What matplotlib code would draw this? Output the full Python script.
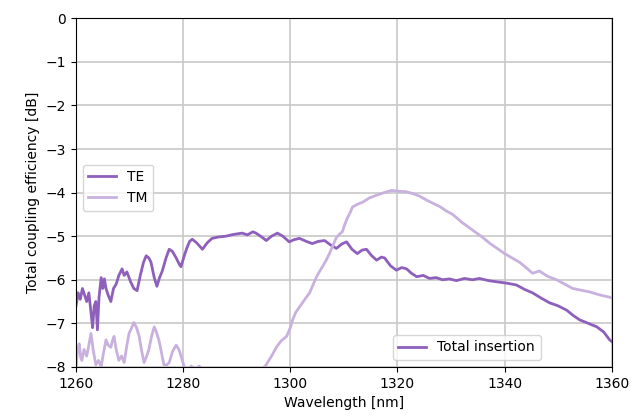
import matplotlib
matplotlib.use("Agg")
import matplotlib.pyplot as plt
from matplotlib.lines import Line2D

# TE measurement (wavelength in nm, coupling efficiency in dB)
te_wl = [1260.0, 1260.4, 1260.8, 1261.2, 1261.6, 1262.0, 1262.4, 1262.8, 1263.1, 1263.4,
         1263.7, 1264.0, 1264.3, 1264.7, 1265.0, 1265.3, 1265.6, 1266.0, 1266.5, 1267.0,
         1267.5, 1268.0, 1268.6, 1269.0, 1269.5, 1270.2, 1270.8, 1271.4, 1272.0, 1272.6,
         1273.1, 1273.6, 1274.0, 1274.6, 1275.1, 1275.6, 1276.1, 1276.8, 1277.4, 1278.0,
         1278.7, 1279.3, 1279.6, 1280.2, 1280.7, 1281.2, 1281.7, 1282.5, 1283.6, 1284.5,
         1285.4, 1286.5, 1288.0, 1289.0, 1289.9, 1291.0, 1292.0, 1293.0, 1293.6, 1294.2,
         1295.0, 1295.5, 1296.5, 1297.6, 1298.6, 1299.8, 1300.7, 1301.7, 1303.0, 1304.1,
         1305.2, 1306.4, 1307.5, 1308.6, 1309.6, 1310.5, 1311.5, 1312.5, 1313.4, 1314.2,
         1315.2, 1316.1, 1317.0, 1317.6, 1318.7, 1319.8, 1320.8, 1321.7, 1322.6, 1323.6,
         1324.8, 1326.0, 1327.2, 1328.4, 1329.7, 1331.0, 1332.5, 1334.0, 1335.3, 1337.0,
         1338.7, 1340.5, 1342.2, 1343.7, 1345.2, 1346.8, 1348.4, 1350.0, 1351.6, 1352.8,
         1354.0, 1355.6, 1357.2, 1358.5, 1359.6, 1360.0]
te_db = [-6.6, -6.3, -6.45, -6.2, -6.35, -6.5, -6.3, -6.75, -7.1, -6.6,
         -6.5, -7.15, -6.4, -5.95, -6.2, -5.98, -6.2, -6.35, -6.5, -6.2,
         -6.1, -5.9, -5.75, -5.9, -5.82, -6.05, -6.2, -6.25, -5.9, -5.6,
         -5.45, -5.5, -5.6, -5.95, -6.15, -5.95, -5.8, -5.5, -5.3, -5.35,
         -5.5, -5.65, -5.7, -5.45, -5.27, -5.12, -5.07, -5.15, -5.3, -5.15,
         -5.05, -5.02, -5.0, -4.97, -4.95, -4.93, -4.97, -4.9, -4.93, -4.98,
         -5.05, -5.1, -5.0, -4.93, -5.0, -5.13, -5.08, -5.05, -5.12, -5.17,
         -5.12, -5.1, -5.2, -5.28, -5.18, -5.13, -5.3, -5.4, -5.32, -5.3,
         -5.45, -5.55, -5.48, -5.5, -5.68, -5.78, -5.72, -5.75, -5.85, -5.93,
         -5.9, -5.97, -5.95, -6.0, -5.98, -6.02, -5.97, -6.0, -5.97, -6.02,
         -6.05, -6.08, -6.12, -6.22, -6.3, -6.42, -6.53, -6.6, -6.7, -6.82,
         -6.92, -7.0, -7.08, -7.2, -7.38, -7.42]

# TM measurement
tm_wl = [1260.0, 1260.3, 1260.6, 1260.9, 1261.1, 1261.5, 1262.0, 1262.4, 1262.8, 1263.2,
         1263.7, 1264.2, 1264.7, 1265.1, 1265.6, 1266.0, 1266.5, 1266.8, 1267.1, 1267.5,
         1268.0, 1268.5, 1269.0, 1269.5, 1269.9, 1270.4, 1270.8, 1271.3, 1271.8, 1272.2,
         1272.7, 1273.2, 1273.6, 1274.1, 1274.6, 1275.0, 1275.5, 1276.0, 1276.4, 1277.0,
         1277.4, 1278.0, 1278.7, 1279.2, 1279.6, 1280.2, 1280.8, 1281.5, 1282.3, 1283.0,
         1283.6, 1284.5, 1286.0, 1288.0, 1290.0, 1292.0, 1294.0, 1295.5, 1296.5, 1297.4,
         1298.3, 1299.3, 1300.0, 1300.4, 1301.0, 1301.7, 1302.7, 1303.6, 1304.3, 1304.9,
         1305.5, 1306.0, 1306.7, 1307.3, 1308.0, 1308.6, 1309.2, 1309.7, 1310.2, 1310.7,
         1311.2, 1311.6, 1312.5, 1313.5, 1314.8, 1316.1, 1317.5, 1318.9, 1320.4, 1321.6,
         1322.8, 1324.1, 1325.4, 1326.7, 1327.9, 1329.1, 1330.3, 1332.0, 1334.0, 1335.6,
         1337.2, 1338.6, 1340.0, 1341.4, 1342.8, 1344.0, 1345.2, 1346.5, 1348.0, 1349.7,
         1351.2, 1352.7, 1354.3, 1355.9, 1357.8, 1359.6, 1360.0]
tm_db = [-8.05, -7.6, -7.47, -7.8, -7.85, -7.6, -7.75, -7.5, -7.23, -7.6,
         -7.95, -7.85, -8.0, -7.7, -7.38, -7.5, -7.55, -7.4, -7.3, -7.6,
         -7.85, -7.75, -7.9, -7.5, -7.23, -7.1, -6.98, -7.1, -7.3, -7.6,
         -7.9, -7.75, -7.6, -7.3, -7.08, -7.2, -7.4, -7.7, -7.95, -7.95,
         -7.9, -7.65, -7.5, -7.6, -7.75, -8.0, -8.1, -7.98, -8.05, -7.98,
         -8.05, -8.3, -8.5, -8.6, -8.5, -8.35, -8.15, -7.95, -7.75, -7.55,
         -7.4, -7.3, -7.1, -6.93, -6.75, -6.63, -6.45, -6.3, -6.1, -5.93,
         -5.8, -5.7, -5.55, -5.4, -5.2, -5.03, -4.95, -4.9, -4.72, -4.57,
         -4.45, -4.33, -4.27, -4.22, -4.12, -4.06, -4.0, -3.95, -3.97, -3.98,
         -4.02, -4.08, -4.17, -4.25, -4.32, -4.42, -4.5, -4.68, -4.86, -5.0,
         -5.16, -5.28, -5.4, -5.5, -5.6, -5.72, -5.85, -5.8, -5.92, -6.0,
         -6.1, -6.2, -6.24, -6.28, -6.35, -6.4, -6.42]

te_color = '#8e60bb'
tm_color = '#c9b1df'

fig, ax = plt.subplots(figsize=(6.44, 4.16), dpi=100)
fig.subplots_adjust(left=0.118, right=0.95, top=0.956, bottom=0.118)

ax.plot(te_wl, te_db, color=te_color, lw=2.0, label='TE')
ax.plot(tm_wl, tm_db, color=tm_color, lw=2.0, label='TM')

ax.set_xlim(1260, 1360)
ax.set_ylim(-8, 0)
ax.set_xticks(range(1260, 1361, 20))
ax.set_yticks(range(-8, 1))
ax.grid(True, color='#c8c8c8', lw=1.2)
ax.set_xlabel('Wavelength [nm]')
ax.set_ylabel('Total coupling efficiency [dB]')

# first legend: the two polarisations
leg1 = ax.legend(loc='upper left', bbox_to_anchor=(0.0, 0.6))
ax.add_artist(leg1)

# second legend for the total insertion
proxy = Line2D([0], [0], color=te_color, lw=2.0)
ax.legend(handles=[proxy], labels=['Total insertion'], loc='lower right',
          bbox_to_anchor=(0.88, 0.0))

fig.savefig('out.png', dpi=100)
